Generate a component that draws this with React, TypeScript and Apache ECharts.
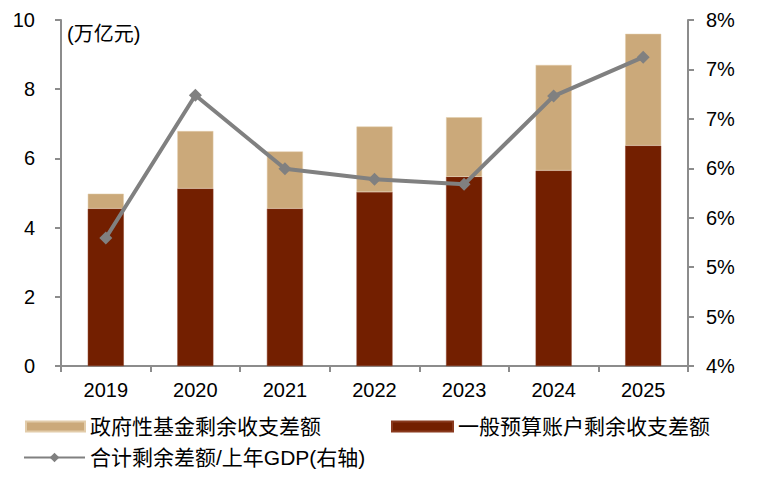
import React, { useEffect, useRef } from "react";
import * as echarts from "echarts";

const categories = ["2019", "2020", "2021", "2022", "2023", "2024", "2025"];
const generalBudget = [4.55, 5.13, 4.55, 5.03, 5.47, 5.65, 6.37];
const fundBudget = [0.43, 1.66, 1.65, 1.89, 1.72, 3.05, 3.23];
const ratioToGdp = [5.48, 7.13, 6.28, 6.16, 6.1, 7.12, 7.57];

const NAME_FUND = "政府性基金剩余收支差额";
const NAME_GENERAL = "一般预算账户剩余收支差额";
const NAME_RATIO = "合计剩余差额/上年GDP(右轴)";

const FONT = "'Liberation Sans', Arial, 'Noto Sans CJK SC', sans-serif";
const AXIS_GRAY = "#8c8c8c";
const FS = 20;

export default function App() {
  const ref = useRef<HTMLDivElement>(null);
  useEffect(() => {
    if (!ref.current) return;
    const chart = echarts.init(ref.current, undefined, { renderer: "svg" });
    const legendText = { fontSize: 21, color: "#000", fontFamily: FONT };
    chart.setOption({
      animation: false,
      textStyle: { fontFamily: FONT },
      grid: { left: 61, right: 90, top: 20, bottom: 122 },
      legend: [
        {
          data: [NAME_FUND],
          left: 25,
          top: 416,
          itemWidth: 59,
          itemHeight: 10,
          padding: 0,
          textStyle: legendText,
          icon: "rect",
        },
        {
          data: [NAME_GENERAL],
          left: 391,
          top: 416,
          itemWidth: 61,
          itemHeight: 10,
          padding: 0,
          textStyle: legendText,
          icon: "rect",
        },
        {
          data: [NAME_RATIO],
          left: 23,
          top: 447,
          itemWidth: 61,
          itemHeight: 12,
          padding: 0,
          textStyle: legendText,
        },
      ],
      graphic: [
        {
          type: "text",
          left: 67,
          top: 24,
          style: { text: "(万亿元)", fontSize: FS, fill: "#000", fontFamily: FONT },
        },
      ],
      xAxis: {
        type: "category",
        data: categories,
        axisLine: { lineStyle: { color: AXIS_GRAY, width: 2 } },
        axisTick: { show: true, length: 6, lineStyle: { color: AXIS_GRAY, width: 2 } },
        axisLabel: { color: "#000", fontSize: FS, margin: 14, fontFamily: FONT },
      },
      yAxis: [
        {
          type: "value",
          min: 0,
          max: 10,
          interval: 2,
          splitLine: { show: false },
          axisLine: { show: true, lineStyle: { color: AXIS_GRAY, width: 2 } },
          axisTick: { show: true, length: 6, lineStyle: { color: AXIS_GRAY, width: 2 } },
          axisLabel: { color: "#000", fontSize: FS, margin: 26, fontFamily: FONT },
        },
        {
          type: "value",
          min: 4,
          max: 8,
          interval: 4 / 7,
          position: "right",
          splitLine: { show: false },
          axisLine: { show: true, lineStyle: { color: AXIS_GRAY, width: 2 } },
          axisTick: { show: true, length: 6, lineStyle: { color: AXIS_GRAY, width: 2 } },
          axisLabel: {
            color: "#000",
            fontSize: FS,
            margin: 18,
            fontFamily: FONT,
            formatter: (v: number) => Math.round(v) + "%",
          },
        },
      ],
      series: [
        {
          name: NAME_GENERAL,
          type: "bar",
          stack: "total",
          data: generalBudget,
          barWidth: 36,
          itemStyle: { color: "#731f00", borderColor: "#8a3a1e", borderWidth: 0.5 },
        },
        {
          name: NAME_FUND,
          type: "bar",
          stack: "total",
          data: fundBudget,
          barWidth: 36,
          itemStyle: { color: "#cba97a", borderColor: "#e2ccaa", borderWidth: 0.5 },
        },
        {
          name: NAME_RATIO,
          type: "line",
          yAxisIndex: 1,
          data: ratioToGdp,
          symbol: "diamond",
          symbolSize: 13,
          lineStyle: { color: "#808080", width: 4 },
          itemStyle: { color: "#808080" },
        },
      ],
    });
    return () => chart.dispose();
  }, []);
  return (
    <div
      ref={ref}
      style={{ position: "fixed", left: 0, top: 0, width: 778, height: 488, background: "#fff" }}
    />
  );
}
